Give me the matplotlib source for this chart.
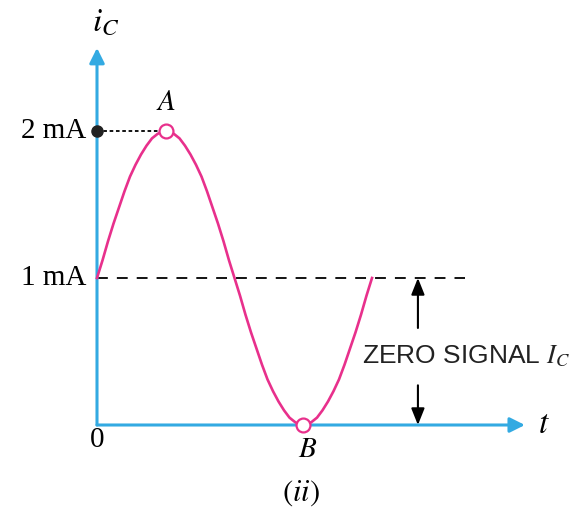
import matplotlib.pyplot as plt

plt.rcParams['mathtext.fontset'] = 'stix'
plt.rcParams['font.family'] = ['Liberation Serif', 'DejaVu Serif']

# collector current (mA), time in periods of the signal
t_pts = [0.00, 0.02, 0.04, 0.06, 0.08, 0.10, 0.12, 0.14, 0.16, 0.18, 0.20,
         0.22, 0.24, 0.26, 0.28, 0.30, 0.32, 0.34, 0.36, 0.38, 0.40, 0.42,
         0.44, 0.46, 0.48, 0.50, 0.52, 0.54, 0.56, 0.58, 0.60, 0.62, 0.64,
         0.66, 0.68, 0.70, 0.72, 0.74, 0.76, 0.78, 0.80, 0.82, 0.84, 0.86,
         0.88, 0.90, 0.92, 0.94, 0.96, 0.98, 1.00]
ic_pts = [1.00, 1.12, 1.25, 1.37, 1.48, 1.59, 1.69, 1.77, 1.84, 1.90, 1.95,
          1.98, 2.00, 2.00, 1.98, 1.95, 1.90, 1.84, 1.77, 1.69, 1.59, 1.48,
          1.37, 1.25, 1.12, 1.00, 0.88, 0.75, 0.63, 0.52, 0.41, 0.31, 0.23,
          0.16, 0.10, 0.05, 0.02, 0.00, 0.00, 0.02, 0.05, 0.10, 0.16, 0.23,
          0.31, 0.41, 0.52, 0.63, 0.75, 0.88, 1.00]

tick_vals = [1, 2]
tick_labels = ['1 mA', '2 mA']
peak = (0.25, 2.0)
trough = (0.75, 0.0)
t_axis_end = 1.556
ic_axis_end = 2.565
dash_end = 1.338
note_t = 1.167

axis_col = '#33aae2'
curve_col = '#e8308c'

fig = plt.figure(figsize=(5.8, 5.19), dpi=100)
ax = fig.add_axes([0, 0, 1, 1])
ax.set_xlim(-97 / 275, 483 / 275)
ax.set_ylim(-94 / 147, 425 / 147)
ax.axis('off')

# axes with arrows
arrow_style = '-|>,head_length=0.9,head_width=0.45'
ax.annotate('', xy=(0, ic_axis_end), xytext=(0, 0),
            arrowprops=dict(arrowstyle=arrow_style, color=axis_col, lw=2.2,
                            shrinkA=0, shrinkB=0))
ax.annotate('', xy=(t_axis_end, 0), xytext=(0, 0),
            arrowprops=dict(arrowstyle=arrow_style, color=axis_col, lw=2.2,
                            shrinkA=0, shrinkB=0))

# zero signal level
ax.plot([0, dash_end], [1, 1], color='black', lw=1.3, dashes=(6, 5))
# peak marker line
ax.plot([0, peak[0]], [peak[1], peak[1]], color='black', lw=1.3, ls=(0, (2, 1.5)))
ax.plot(0, peak[1], 'o', color='#222222', ms=8, zorder=5)

ax.plot(t_pts, ic_pts, color=curve_col, lw=1.9, zorder=3, solid_joinstyle='round')
for p in (peak, trough):
    ax.plot(*p, 'o', mfc='white', mec=curve_col, mew=1.6, ms=10, zorder=6)

# double arrow for zero signal Ic
note_style = '-|>,head_length=1.0,head_width=0.4'
ax.annotate('', xy=(note_t, 1), xytext=(note_t, 0.66),
            arrowprops=dict(arrowstyle=note_style, color='black', lw=1.5,
                            shrinkA=0, shrinkB=0))
ax.annotate('', xy=(note_t, 0), xytext=(note_t, 0.27),
            arrowprops=dict(arrowstyle=note_style, color='black', lw=1.5,
                            shrinkA=0, shrinkB=0))
ax.text(1.342, 0.47, 'ZERO SIGNAL $I_C$', ha='center', va='center',
        fontsize=19, color='#222222', family=['Liberation Sans', 'DejaVu Sans'])

# labels
for v, lab in zip(tick_vals, tick_labels):
    ax.text(-0.04, v, lab, ha='right', va='center', fontsize=21)
ax.text(0, -0.1, '0', ha='center', va='center', fontsize=21)
ax.text(0.03, ic_axis_end + 0.07, '$i_C$', ha='center', va='bottom', fontsize=24)
ax.text(t_axis_end + 0.07, 0, '$t$', ha='center', va='center', fontsize=24)
ax.text(peak[0], peak[1] + 0.1, '$A$', ha='center', va='bottom', fontsize=21)
ax.text(trough[0] + 0.015, -0.08, '$B$', ha='center', va='top', fontsize=21)
ax.text(0.74, -0.46, '$(ii)$', ha='center', va='center', fontsize=22)

fig.savefig('out.png', dpi=100)
